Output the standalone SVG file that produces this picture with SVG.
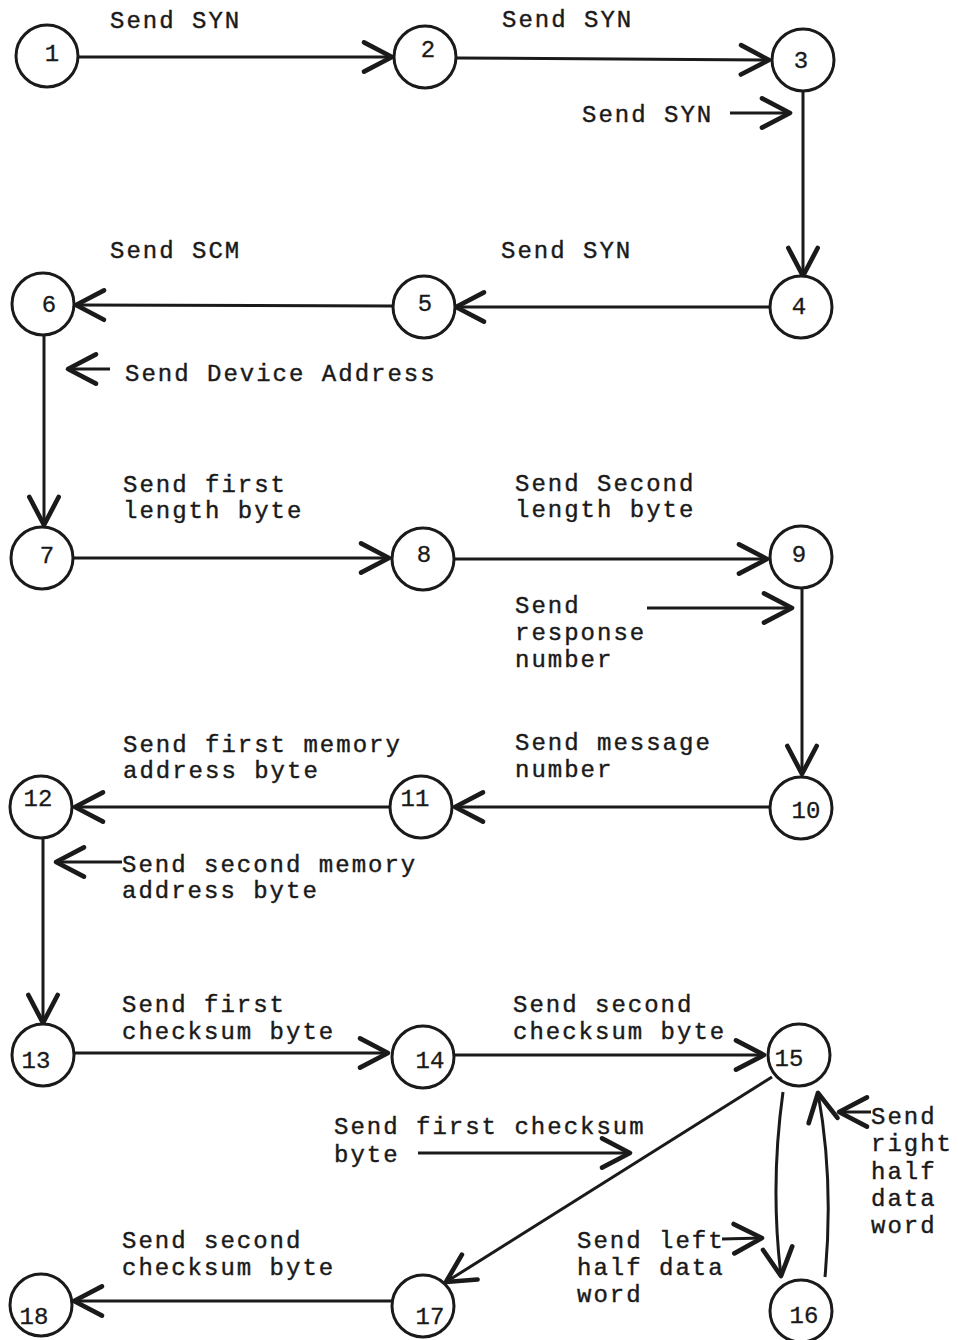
<svg xmlns="http://www.w3.org/2000/svg" width="958" height="1340" viewBox="0 0 958 1340">
<style>
.n circle{fill:#fff;stroke:#1a1a1a;stroke-width:3}
.n text{font-family:"Liberation Mono",monospace;font-size:24px;fill:#1a1a1a;text-anchor:middle;stroke:#1a1a1a;stroke-width:0.3}
.l{font-family:"Liberation Mono",monospace;font-size:24px;letter-spacing:2px;fill:#1a1a1a;stroke:#1a1a1a;stroke-width:0.4}
#edges path,#edges line{fill:none;stroke:#1a1a1a;stroke-width:3;marker-end:url(#ah)}
</style>
<defs>
<marker id="ah" markerUnits="userSpaceOnUse" markerWidth="40" markerHeight="40" refX="0" refY="0" viewBox="-26 -14 30 28" orient="auto" overflow="visible">
<path d="M-21,-11 L0,0 L-21,11" fill="none" stroke="#1a1a1a" stroke-width="3.5" stroke-linecap="round" stroke-linejoin="round"/>
</marker>
</defs>
<rect width="958" height="1340" fill="#fff"/>
<g id="edges">
<line x1="78" y1="57" x2="392" y2="57"/>
<line x1="457" y1="58" x2="769" y2="60"/>
<line x1="803" y1="90" x2="803" y2="276"/>
<line x1="730" y1="113" x2="790" y2="113"/>
<line x1="770" y1="307" x2="456" y2="307"/>
<line x1="393" y1="306" x2="76" y2="305"/>
<line x1="44" y1="334" x2="44" y2="525"/>
<line x1="110" y1="369" x2="68" y2="369"/>
<line x1="74" y1="558" x2="389" y2="558"/>
<line x1="455" y1="559" x2="767" y2="559"/>
<line x1="647" y1="608" x2="792" y2="608"/>
<line x1="802" y1="588" x2="802" y2="774"/>
<line x1="770" y1="807" x2="455" y2="807"/>
<line x1="390" y1="807" x2="75" y2="807"/>
<line x1="43" y1="838" x2="43" y2="1023"/>
<line x1="122" y1="862" x2="56" y2="862"/>
<line x1="75" y1="1053" x2="388" y2="1053"/>
<line x1="454" y1="1055" x2="764" y2="1055"/>
<line x1="772" y1="1077" x2="446" y2="1282"/>
<line x1="418" y1="1153" x2="630" y2="1153"/>
<path d="M783,1092 Q770,1185 781,1276"/>
<path d="M825,1277 Q834,1180 818,1093"/>
<line x1="722" y1="1239" x2="762" y2="1238"/>
<line x1="871" y1="1112" x2="839" y2="1112"/>
<line x1="392" y1="1301" x2="74" y2="1301"/>
</g>
<g id="node1" class="n"><circle cx="47" cy="56" r="31"/><text x="52" y="61">1</text></g>
<g id="node2" class="n"><circle cx="425" cy="57" r="31"/><text x="428" y="57">2</text></g>
<g id="node3" class="n"><circle cx="803" cy="60" r="31"/><text x="801" y="68">3</text></g>
<g id="node4" class="n"><circle cx="801" cy="307" r="31"/><text x="799" y="314">4</text></g>
<g id="node5" class="n"><circle cx="424" cy="307" r="31"/><text x="425" y="311">5</text></g>
<g id="node6" class="n"><circle cx="43" cy="304" r="31"/><text x="49" y="312">6</text></g>
<g id="node7" class="n"><circle cx="42" cy="558" r="31"/><text x="47" y="563">7</text></g>
<g id="node8" class="n"><circle cx="423" cy="559" r="31"/><text x="424" y="562">8</text></g>
<g id="node9" class="n"><circle cx="801" cy="557" r="31"/><text x="799" y="562">9</text></g>
<g id="node10" class="n"><circle cx="801" cy="808" r="31"/><text x="806" y="818">10</text></g>
<g id="node11" class="n"><circle cx="421" cy="807" r="31"/><text x="415" y="806">11</text></g>
<g id="node12" class="n"><circle cx="41" cy="807" r="31"/><text x="38" y="806">12</text></g>
<g id="node13" class="n"><circle cx="43" cy="1055" r="31"/><text x="36" y="1068">13</text></g>
<g id="node14" class="n"><circle cx="423" cy="1057" r="31"/><text x="430" y="1068">14</text></g>
<g id="node15" class="n"><circle cx="799" cy="1055" r="31"/><text x="789" y="1066">15</text></g>
<g id="node16" class="n"><circle cx="801" cy="1311" r="31"/><text x="804" y="1323">16</text></g>
<g id="node17" class="n"><circle cx="423" cy="1306" r="31"/><text x="430" y="1324">17</text></g>
<g id="node18" class="n"><circle cx="41" cy="1305" r="31"/><text x="34" y="1324">18</text></g>
<g id="labels">
<text class="l" x="110" y="28">Send SYN</text>
<text class="l" x="502" y="27">Send SYN</text>
<text class="l" x="582" y="122">Send SYN</text>
<text class="l" x="110" y="258">Send SCM</text>
<text class="l" x="501" y="258">Send SYN</text>
<text class="l" x="125" y="381">Send Device Address</text>
<text class="l" x="123" y="492">Send first</text>
<text class="l" x="123" y="518">length byte</text>
<text class="l" x="515" y="491">Send Second</text>
<text class="l" x="515" y="517">length byte</text>
<text class="l" x="515" y="613">Send</text>
<text class="l" x="515" y="640">response</text>
<text class="l" x="515" y="667">number</text>
<text class="l" x="515" y="750">Send message</text>
<text class="l" x="515" y="777">number</text>
<text class="l" x="123" y="752">Send first memory</text>
<text class="l" x="123" y="778">address byte</text>
<text class="l" x="122" y="872">Send second memory</text>
<text class="l" x="122" y="898">address byte</text>
<text class="l" x="122" y="1012">Send first</text>
<text class="l" x="122" y="1039">checksum byte</text>
<text class="l" x="513" y="1012">Send second</text>
<text class="l" x="513" y="1039">checksum byte</text>
<text class="l" x="334" y="1134">Send first checksum</text>
<text class="l" x="334" y="1162">byte</text>
<text class="l" x="122" y="1248">Send second</text>
<text class="l" x="122" y="1275">checksum byte</text>
<text class="l" x="577" y="1248">Send left</text>
<text class="l" x="577" y="1275">half data</text>
<text class="l" x="577" y="1302">word</text>
<text class="l" x="871" y="1124">Send</text>
<text class="l" x="871" y="1151">right</text>
<text class="l" x="871" y="1179">half</text>
<text class="l" x="871" y="1206">data</text>
<text class="l" x="871" y="1233">word</text>
</g>
</svg>
